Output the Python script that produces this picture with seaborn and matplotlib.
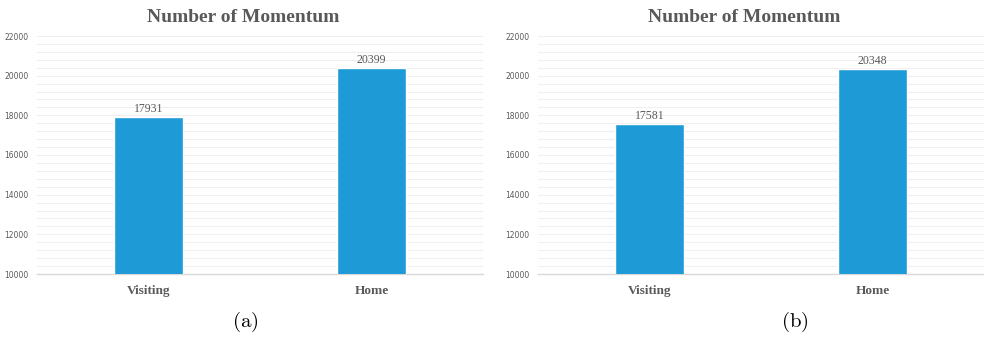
import numpy as np
import pandas as pd
import seaborn as sns
import matplotlib.pyplot as plt
from matplotlib.ticker import MultipleLocator

sides = ['Visiting', 'Home']
momentum_a = [17931, 20399]
momentum_b = [17581, 20348]
panel_tags = ['(a)', '(b)']

sns.set_theme(style='white')
plt.rcParams['mathtext.fontset'] = 'cm'

bar_color = '#1E9BD7'
text_gray = '#595959'

fig = plt.figure(figsize=(9.84, 3.37), dpi=100)
lefts = [37 / 984, 538 / 984]
tag_x = [245 / 984, 795 / 984]

for left, vals, tag, tx in zip(lefts, [momentum_a, momentum_b], panel_tags, tag_x):
    ax = fig.add_axes([left, 1 - 274 / 337, 446 / 984, 238 / 337])
    df = pd.DataFrame({'side': sides, 'n': vals})
    sns.barplot(data=df, x='side', y='n', color=bar_color, width=0.31,
                saturation=1, ax=ax, zorder=3)
    ax.set_ylim(10000, 22000)
    ax.set_xlim(-0.5, 1.5)
    ax.yaxis.set_major_locator(MultipleLocator(2000))
    ax.yaxis.set_minor_locator(MultipleLocator(400))
    ax.grid(which='both', axis='y', color='#EFEFEF', linewidth=0.8, zorder=0)
    for s in ['top', 'right', 'left']:
        ax.spines[s].set_visible(False)
    ax.spines['bottom'].set_color('#D9D9D9')
    ax.spines['bottom'].set_linewidth(1.0)
    ax.tick_params(axis='y', which='both', length=0, labelsize=5.5,
                   labelcolor=text_gray, pad=6)
    ax.tick_params(axis='x', length=0, pad=8)
    ax.set_xticks(range(len(sides)))
    ax.set_xticklabels(sides, fontfamily='Liberation Serif', fontweight='bold',
                       fontsize=9.5, color=text_gray)
    ax.set_xlabel('')
    ax.set_ylabel('')
    for i, v in enumerate(vals):
        ax.text(i, v + 90, str(v), ha='center', va='bottom',
                fontfamily='Liberation Serif', fontsize=8.5, color=text_gray)
    ax.set_title('Number of Momentum', fontfamily='Liberation Serif',
                 fontweight='bold', fontsize=14, color=text_gray, pad=10,
                 x=0.462)
    fig.text(tx, 1 - 322 / 337, r'$\mathrm{' + tag + '}$', ha='center',
             va='center', fontsize=15, color='black')

fig.savefig('out.png', dpi=100, facecolor='white')
